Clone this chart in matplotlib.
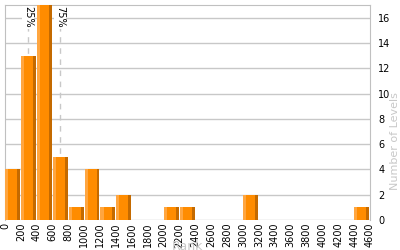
import numpy as np
import matplotlib
matplotlib.use("Agg")
import matplotlib.pyplot as plt

# histogram data (rank bins of 200)
bin_left = list(range(0, 4600, 200))
counts = [4, 13, 17, 5, 1, 4, 1, 2, 0, 0, 1, 1, 0, 0, 0, 2, 0, 0, 0, 0, 0, 0, 1]
xticks = list(range(0, 4601, 200))
yticks = list(range(0, 17, 2))
pct_labels = ["25%", "75%"]
pct_values = [292, 695]

fig = plt.figure(figsize=(4, 2.5), dpi=100)
ax = fig.add_axes([0.0125, 0.12, 0.9125, 0.86])

# bars drawn as three strips for the bevelled look
x = np.array(bin_left, dtype=float)
h = np.array(counts, dtype=float)
ax.bar(x + 2, h, width=40, align="edge", color="#ffa640", linewidth=0, zorder=3)
ax.bar(x + 42, h, width=112, align="edge", color="#ff8c00", linewidth=0, zorder=3)
ax.bar(x + 154, h, width=36, align="edge", color="#c46a00", linewidth=0, zorder=3)

for lab, v in zip(pct_labels, pct_values):
    ax.axvline(v, color="#c8c8c8", lw=1, ls=(0, (4, 4)), zorder=1)
    ax.text(v, 16.9, lab, rotation=270, ha="center", va="top", fontsize=7,
            color="black", zorder=4,
            bbox=dict(facecolor="white", edgecolor="none", pad=0.5))

ax.set_xlim(0, 4600)
ax.set_ylim(0, 17)
ax.set_xticks(xticks)
ax.set_xticklabels([str(t) for t in xticks], rotation=90, fontsize=7)
ax.set_yticks(yticks)
ax.yaxis.tick_right()
ax.tick_params(axis="y", labelsize=7, length=0, pad=6)
ax.tick_params(axis="x", length=0, pad=2)
ax.grid(axis="y", color="#c8c8c8", lw=1, zorder=0)
for s in ax.spines.values():
    s.set_color("#c0c0c0")
ax.spines["bottom"].set_visible(False)

fig.text(0.9875, 0.24, "Number of Levels", rotation=90, ha="center", va="bottom",
         fontsize=8, color="#c8c8c8")
fig.text(0.4675, 0.04, "Rank", ha="center", va="top", fontsize=9, color="#c8c8c8")

fig.savefig("out.png", dpi=100)
